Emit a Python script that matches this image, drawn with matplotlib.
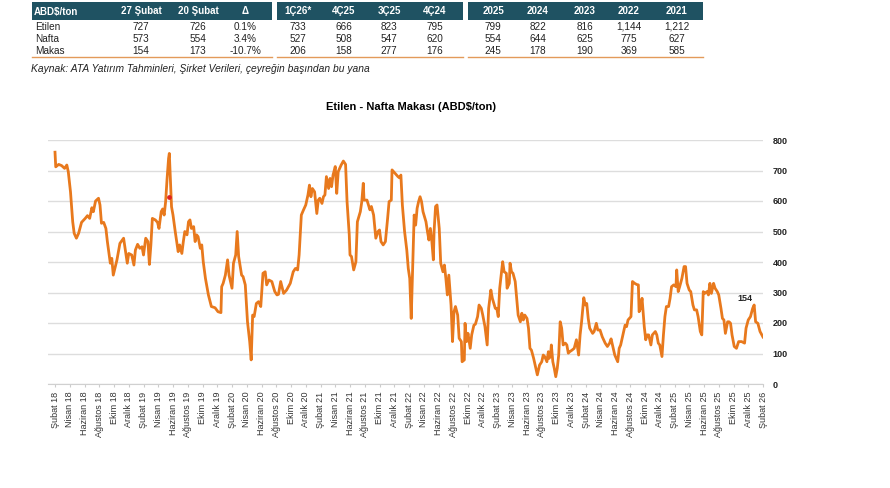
import matplotlib
matplotlib.use("Agg")
import matplotlib.pyplot as plt
from matplotlib.patches import Rectangle

plt.rcParams['font.family'] = ['Liberation Sans', 'DejaVu Sans']

# ---------------- data ----------------
header_block1 = ["ABD$/ton", "27 Şubat", "20 Şubat", "Δ"]
header_block2 = ["1Ç26*", "4Ç25", "3Ç25", "4Ç24"]
header_block3 = ["2025", "2024", "2023", "2022", "2021"]
row_names = ["Etilen", "Nafta", "Makas"]
block1_vals = [["727", "726", "0.1%"], ["573", "554", "3.4%"], ["154", "173", "-10.7%"]]
block2_vals = [["733", "666", "823", "795"], ["527", "508", "547", "620"], ["206", "158", "277", "176"]]
block3_vals = [["799", "822", "816", "1,144", "1,212"], ["554", "644", "625", "775", "627"],
               ["245", "178", "190", "369", "585"]]
source_note = "Kaynak: ATA Yatırım Tahminleri, Şirket Verileri, çeyreğin başından bu yana"
chart_title = "Etilen - Nafta Makası (ABD$/ton)"

# months since Şubat 2018
months = [0.0, 0.1, 0.5, 0.9, 1.3, 1.6, 1.8, 2.1, 2.4, 2.6, 2.9, 3.2, 3.6, 4.1, 4.4, 4.7, 5.0, 5.2, 5.5, 5.9,
          6.1, 6.3, 6.6, 6.9, 7.1, 7.5, 7.7, 7.9, 8.4, 8.8, 9.3, 9.5, 9.8, 10.0, 10.4, 10.7, 10.9, 11.2, 11.5,
          11.8, 12.0, 12.3, 12.6, 12.8, 13.0, 13.2, 13.6, 13.9, 14.1, 14.4, 14.6, 14.8, 15.0, 15.2, 15.4, 15.5,
          15.7, 15.8, 16.0, 16.3, 16.5, 16.7, 16.9, 17.2, 17.4, 17.6, 17.9, 18.1, 18.3, 18.5, 18.8, 19.0, 19.2,
          19.4, 19.7, 19.9, 20.1, 20.4, 20.8, 21.2, 21.7, 22.1, 22.5, 22.6, 22.8, 23.1, 23.4, 23.6, 24.0, 24.2,
          24.5, 24.7, 24.9, 25.3, 25.5, 25.8, 26.1, 26.4, 26.6, 26.8, 27.0, 27.3, 27.6, 27.9, 28.2, 28.5, 28.7,
          29.0, 29.4, 29.8, 30.1, 30.3, 30.6, 31.0, 31.4, 31.9, 32.3, 32.6, 32.9, 33.1, 33.4, 33.7, 34.0, 34.3,
          34.5, 34.7, 34.9, 35.2, 35.5, 35.7, 35.9, 36.2, 36.4, 36.6, 36.8, 37.1, 37.3, 37.5, 37.7, 38.0, 38.2,
          38.4, 38.8, 39.1, 39.4, 39.6, 39.9, 40.0, 40.2, 40.5, 40.8, 41.0, 41.4, 41.6, 41.8, 41.9, 42.3, 42.5,
          42.7, 42.9, 43.2, 43.5, 43.8, 44.0, 44.2, 44.5, 44.8, 45.1, 45.3, 45.6, 45.7, 46.1, 46.5, 46.7, 46.9,
          47.1, 47.4, 47.7, 47.9, 48.1, 48.3, 48.5, 48.7, 48.9, 49.1, 49.3, 49.5, 49.7, 49.9, 50.3, 50.5, 50.7,
          50.9, 51.1, 51.3, 51.4, 51.6, 51.8, 52.1, 52.3, 52.6, 52.8, 53.0, 53.2, 53.4, 53.7, 53.9, 54.1, 54.3,
          54.6, 54.8, 55.1, 55.2, 55.5, 55.6, 55.8, 56.0, 56.3, 56.5, 56.8, 57.0, 57.3, 57.5, 57.8, 58.0, 58.3,
          58.6, 58.8, 59.1, 59.3, 59.7, 59.9, 60.1, 60.3, 60.6, 60.7, 60.9, 61.2, 61.3, 61.6, 61.7, 61.9, 62.1,
          62.4, 62.6, 62.8, 63.1, 63.3, 63.5, 63.7, 64.0, 64.2, 64.4, 64.6, 64.9, 65.2, 65.4, 65.7, 66.0, 66.2,
          66.4, 66.7, 66.9, 67.0, 67.2, 67.3, 67.5, 67.7, 67.9, 68.1, 68.3, 68.5, 68.7, 68.9, 69.2, 69.4, 69.6,
          69.8, 70.1, 70.4, 70.7, 71.0, 71.2, 71.4, 71.7, 71.9, 72.1, 72.3, 72.5, 72.9, 73.1, 73.4, 73.6, 73.9,
          74.2, 74.6, 74.9, 75.2, 75.4, 75.7, 75.9, 76.3, 76.5, 76.7, 77.1, 77.3, 77.5, 77.7, 78.1, 78.3, 78.6,
          78.9, 79.1, 79.2, 79.4, 79.6, 79.9, 80.1, 80.3, 80.5, 80.8, 81.0, 81.4, 81.6, 81.8, 82.0, 82.3, 82.5,
          82.7, 82.9, 83.2, 83.4, 83.6, 83.9, 84.2, 84.3, 84.5, 84.7, 85.0, 85.3, 85.5, 85.7, 86.0, 86.2, 86.5,
          86.7, 87.0, 87.2, 87.5, 87.7, 87.9, 88.1, 88.4, 88.6, 88.8, 89.0, 89.3, 89.5, 89.8, 90.0, 90.3, 90.5,
          90.7, 90.9, 91.2, 91.4, 91.6, 91.8, 92.1, 92.4, 92.7, 93.1, 93.5, 93.7, 94.0, 94.3, 94.6, 94.8, 95.0,
          95.3, 95.6, 96.0]
spread = [760, 712, 720, 716, 707, 718, 696, 630, 532, 494, 478, 494, 530, 543, 552, 543, 578, 565, 600, 609,
          587, 527, 530, 510, 467, 396, 412, 357, 407, 461, 478, 445, 396, 428, 423, 390, 439, 458, 445,
          450, 423, 478, 467, 392, 456, 543, 538, 530, 510, 565, 574, 554, 598, 674, 740, 756,
          641, 581, 554, 500, 467, 434, 456, 428, 467, 500, 489, 532, 538, 510, 516, 467, 489,
          483, 445, 456, 401, 346, 292, 254, 250, 237, 234, 319, 330, 357, 407, 357, 314, 396,
          423, 500, 418, 357, 352, 325, 204, 139, 79, 226, 221, 264, 270, 254, 363, 368, 325,
          341, 336, 303, 292, 294, 336, 297, 308, 330, 368, 379, 374, 423, 554, 571, 587, 620,
          652, 614, 641, 630, 559, 603, 609, 592, 614, 620, 680, 641, 674, 647, 685, 713, 625,
          696, 718, 731, 720, 598, 489, 423, 418, 374, 401, 532, 565, 598, 658, 603, 603, 587,
          571, 582, 554, 478, 500, 505, 467, 456, 467, 543, 598, 603, 702, 691, 680, 676, 685,
          587, 500, 439, 379, 346, 215, 379, 554, 521, 576, 598, 614, 598, 565, 532, 500, 472,
          510, 467, 407, 500, 582, 587, 510, 396, 368, 390, 346, 292, 357, 259, 139, 237, 254,
          226, 150, 139, 73, 79, 199, 139, 166, 117, 161, 193, 196, 221, 259, 248, 226, 188,
          128, 248, 308, 281, 248, 248, 221, 314, 379, 401, 368, 363, 314, 330, 396, 368, 363,
          336, 281, 226, 204, 232, 210, 226, 215, 183, 117, 111, 84, 51, 30, 62, 73, 95,
          90, 73, 106, 84, 95, 128, 73, 51, 24, 51, 95, 204, 183, 128, 134, 128, 101,
          106, 111, 117, 145, 95, 161, 204, 283, 259, 264, 215, 183, 166, 172, 199, 177, 177,
          155, 134, 123, 134, 148, 117, 95, 73, 117, 128, 172, 193, 188, 210, 221, 336, 330,
          326, 325, 237, 248, 281, 188, 145, 161, 161, 128, 161, 172, 161, 134, 128, 90, 161,
          221, 254, 254, 281, 319, 325, 319, 374, 303, 319, 346, 385, 385, 330, 308, 303, 259,
          243, 243, 221, 172, 161, 303, 297, 303, 292, 330, 297, 330, 314, 303, 292, 248, 215,
          210, 166, 204, 204, 199, 161, 123, 117, 139, 139, 134, 183, 210, 221, 248, 259, 204,
          199, 172, 154]

highlight_month = [15.5]
highlight_value = [612]
last_label = "154"

month_names = ["Şubat", "Nisan", "Haziran", "Ağustos", "Ekim", "Aralık"]
tick_months = list(range(0, 97, 2))
tick_labels = []
for i, m in enumerate(tick_months):
    yr = 18 + (m + 1) // 12
    tick_labels.append(f"{month_names[i % 6]} {yr}")

y_ticks = [0, 100, 200, 300, 400, 500, 600, 700, 800]

# ---------------- figure ----------------
W, H = 890, 488
fig = plt.figure(figsize=(W / 100, H / 100), dpi=100)
fig.patch.set_facecolor("white")

def fx(px):
    return px / W

def fy(py):
    return 1 - py / H

HEAD = "#1f5262"
ORANGE_LINE = "#e39a5a"
TXT = "#222222"
FS = 7

# header blocks
blocks = [(32, 272), (277, 463), (468, 703)]
for x0, x1 in blocks:
    fig.patches.append(Rectangle((fx(x0), fy(20)), fx(x1 - x0), 18 / H, transform=fig.transFigure,
                                 facecolor=HEAD, edgecolor="none"))
    fig.add_artist(plt.Line2D([fx(x0), fx(x1)], [fy(57), fy(57)], transform=fig.transFigure,
                              color=ORANGE_LINE, lw=1.0))

hy = fy(11.5)
fig.text(fx(34), hy, header_block1[0], color="white", fontsize=FS, fontweight="bold", ha="left", va="center")
b1_cols = [141, 198, 245]
b2_cols = [298, 344, 389, 435]
b3_cols = [493, 538, 585, 629, 677]
for c, t in zip(b1_cols, header_block1[1:]):
    fig.text(fx(c), hy, t, color="white", fontsize=FS, fontweight="bold", ha="center", va="center")
for c, t in zip(b2_cols, header_block2):
    fig.text(fx(c), hy, t, color="white", fontsize=FS, fontweight="bold", ha="center", va="center")
for c, t in zip(b3_cols, header_block3):
    fig.text(fx(c), hy, t, color="white", fontsize=FS, fontweight="bold", ha="center", va="center")

row_ys = [26.5, 38.5, 50.5]
for r, ry in enumerate(row_ys):
    fig.text(fx(35), fy(ry), row_names[r], color=TXT, fontsize=FS + 0.2, ha="left", va="center")
    for c, t in zip(b1_cols, block1_vals[r]):
        fig.text(fx(c), fy(ry), t, color=TXT, fontsize=FS + 0.2, ha="center", va="center")
    for c, t in zip(b2_cols, block2_vals[r]):
        fig.text(fx(c), fy(ry), t, color=TXT, fontsize=FS + 0.2, ha="center", va="center")
    for c, t in zip(b3_cols, block3_vals[r]):
        fig.text(fx(c), fy(ry), t, color=TXT, fontsize=FS + 0.2, ha="center", va="center")

fig.text(fx(31), fy(68.5), source_note, color=TXT, fontsize=7.35, style="italic", ha="left", va="center")
fig.text(fx(411), fy(107), chart_title, color="black", fontsize=8, fontweight="bold", ha="center", va="center")

# ---------------- chart ----------------
ax = fig.add_axes([fx(48), fy(384), fx(763 - 48), (384 - 140) / H])
ax.plot(months, spread, color="#e8791d", lw=2.0, solid_joinstyle="round")
ax.plot(highlight_month, highlight_value, "o", color="#e02020", ms=2.4)
ax.text(months[-1] - 2.4, spread[-1] + 125, last_label, fontsize=6.5, fontweight="bold",
        color="#222222", ha="center", va="center")

ax.set_xlim(-0.95, 96)
ax.set_ylim(0, 800)
ax.set_yticks(y_ticks)
ax.yaxis.tick_right()
ax.tick_params(axis="y", length=0, pad=7, labelsize=6.5, labelcolor="#222222")
for lbl in ax.get_yticklabels():
    lbl.set_fontweight("bold")
ax.grid(axis="y", color="#dddddd", lw=1.0)
ax.set_axisbelow(True)

ax.set_xticks(tick_months)
ax.set_xticklabels(tick_labels, rotation=90, fontsize=6.5, color="#333333")
ax.tick_params(axis="x", length=2.5, color="#cccccc", pad=3)

for s in ["left", "right", "top"]:
    ax.spines[s].set_visible(False)
ax.spines["bottom"].set_color("#d0d0d0")
ax.spines["bottom"].set_linewidth(0.8)

fig.savefig("out.png", dpi=100)
